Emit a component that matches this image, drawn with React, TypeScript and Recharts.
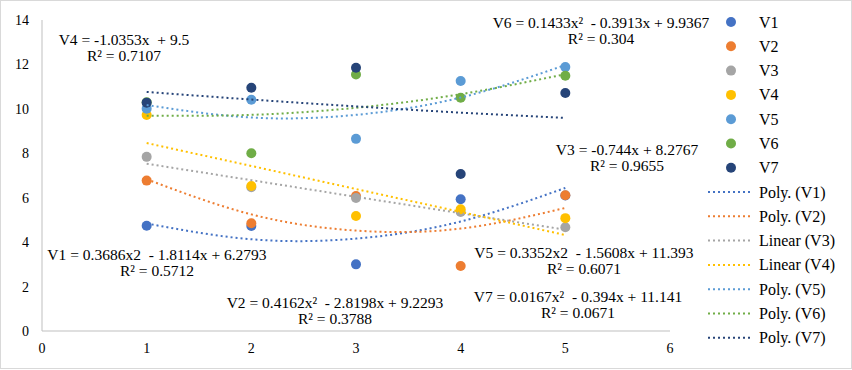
import { ScatterChart, Scatter, XAxis, YAxis } from 'recharts';

const xValues = [1, 2, 3, 4, 5];
const seriesNames = ['V1', 'V2', 'V3', 'V4', 'V5', 'V6', 'V7'];
const colors = ['#4472C4', '#ED7D31', '#A5A5A5', '#FFC000', '#5B9BD5', '#70AD47', '#264478'];

// observed values at x = 1..5
const v1 = [4.74, 4.73, 3.0, 5.93, 6.1];
const v2 = [6.77, 4.85, 6.08, 2.93, 6.11];
const v3 = [7.84, 6.47, 5.99, 5.36, 4.67];
const v4 = [9.72, 6.53, 5.18, 5.48, 5.08];
const v5 = [10.01, 10.41, 8.65, 11.25, 11.88];
const v6 = [10.3, 8.0, 11.55, 10.5, 11.49];
const v7 = [10.28, 10.95, 11.85, 7.07, 10.71];

// trendline values at x = 1..5
const t1 = [4.84, 4.13, 4.16, 4.93, 6.44];
const t2 = [6.83, 5.25, 4.52, 4.61, 5.54];
const t3 = [7.53, 6.79, 6.04, 5.3, 4.56];
const t4 = [8.46, 7.43, 6.39, 5.36, 4.32];
const t5 = [10.17, 9.61, 9.73, 10.51, 11.97];
const t6 = [9.69, 9.73, 10.05, 10.66, 11.56];
const t7 = [10.76, 10.42, 10.11, 9.83, 9.59];

const trendNames = ['Poly. (V1)', 'Poly. (V2)', 'Linear (V3)', 'Linear (V4)', 'Poly. (V5)', 'Poly. (V6)', 'Poly. (V7)'];
const trendKinds = ['natural', 'natural', 'linear', 'linear', 'natural', 'natural', 'natural'];

const equations = [
  ['V1 = 0.3686x2  - 1.8114x + 6.2793', 'R² = 0.5712'],
  ['V2 = 0.4162x²  - 2.8198x + 9.2293', 'R² = 0.3788'],
  ['V3 = -0.744x + 8.2767', 'R² = 0.9655'],
  ['V4 = -1.0353x  + 9.5', 'R² = 0.7107'],
  ['V5 = 0.3352x2  - 1.5608x + 11.393', 'R² = 0.6071'],
  ['V6 = 0.1433x²  - 0.3913x + 9.9367', 'R² = 0.304'],
  ['V7 = 0.0167x²  - 0.394x + 11.141', 'R² = 0.0671'],
];
const xTicks = [0, 1, 2, 3, 4, 5, 6];
const yTicks = [0, 2, 4, 6, 8, 10, 12, 14];

const points = [v1, v2, v3, v4, v5, v6, v7];
const trends = [t1, t2, t3, t4, t5, t6, t7];
const toRows = (vals: number[]) => xValues.map((x, i) => ({ x, y: vals[i] }));

// label centres (px) for each equation block
const eqPos = [
  [157, 254],
  [335, 302],
  [627, 149],
  [124, 39],
  [584, 252],
  [601, 22],
  [578, 296],
];

const font = '"Liberation Serif", "Times New Roman", serif';

export default function App() {
  return (
    <div
      style={{
        position: 'absolute',
        left: 0,
        top: 0,
        width: 850,
        height: 367,
        border: '1px solid #d9d9d9',
        background: '#fff',
        fontFamily: font,
      }}
    >
      <ScatterChart width={852} height={370} margin={{ top: 20, right: 182, bottom: 14, left: 12 }} style={{ position: 'absolute', left: -1, top: -1 }}>
        <XAxis
          type="number"
          dataKey="x"
          domain={[0, 6]}
          ticks={xTicks}
          tickLine={false}
          axisLine={{ stroke: '#bfbfbf' }}
          tick={{ fill: '#000', fontSize: 14, fontFamily: font }}
          tickMargin={6}
          height={25}
        />
        <YAxis
          type="number"
          dataKey="y"
          domain={[0, 14]}
          ticks={yTicks}
          tickLine={false}
          axisLine={{ stroke: '#bfbfbf' }}
          tick={{ fill: '#000', fontSize: 14, fontFamily: font }}
          tickMargin={7}
          width={30}
        />
        {points.map((vals, i) => (
          <Scatter
            key={seriesNames[i]}
            name={seriesNames[i]}
            data={toRows(vals)}
            fill={colors[i]}
            isAnimationActive={false}
            shape={(p: any) => <circle cx={p.cx} cy={p.cy} r={5} fill={colors[i]} />}
          />
        ))}
        {trends.map((vals, i) => (
          <Scatter
            key={trendNames[i]}
            name={trendNames[i]}
            data={toRows(vals)}
            fill={colors[i]}
            isAnimationActive={false}
            line={{ stroke: colors[i], strokeWidth: 2, strokeDasharray: '2 3' }}
            lineJointType={trendKinds[i] as any}
            shape={() => <g />}
          />
        ))}
      </ScatterChart>
      <svg width={852} height={370} style={{ position: 'absolute', left: -1, top: -1, pointerEvents: 'none' }}>
        {equations.map((lines, i) => (
          <g key={i}>
            <text x={eqPos[i][0]} y={eqPos[i][1]} textAnchor="middle" dominantBaseline="central" fontSize={15.5} fontFamily={font} style={{ whiteSpace: 'pre' }}>
              {lines[0]}
            </text>
            <text x={eqPos[i][0]} y={eqPos[i][1] + 16.5} textAnchor="middle" dominantBaseline="central" fontSize={15.5} fontFamily={font}>
              {lines[1]}
            </text>
          </g>
        ))}
        {seriesNames.map((n, i) => (
          <g key={n}>
            <circle cx={731} cy={22 + i * 24.3} r={5} fill={colors[i]} />
            <text x={759} y={22 + i * 24.3} dominantBaseline="central" fontSize={16} fontFamily={font}>
              {n}
            </text>
          </g>
        ))}
        {trendNames.map((n, i) => (
          <g key={n}>
            <line x1={708} x2={752} y1={192 + i * 24.3} y2={192 + i * 24.3} stroke={colors[i]} strokeWidth={2} strokeDasharray="2 3" />
            <text x={759} y={192 + i * 24.3} dominantBaseline="central" fontSize={16} fontFamily={font}>
              {n}
            </text>
          </g>
        ))}
      </svg>
    </div>
  );
}
